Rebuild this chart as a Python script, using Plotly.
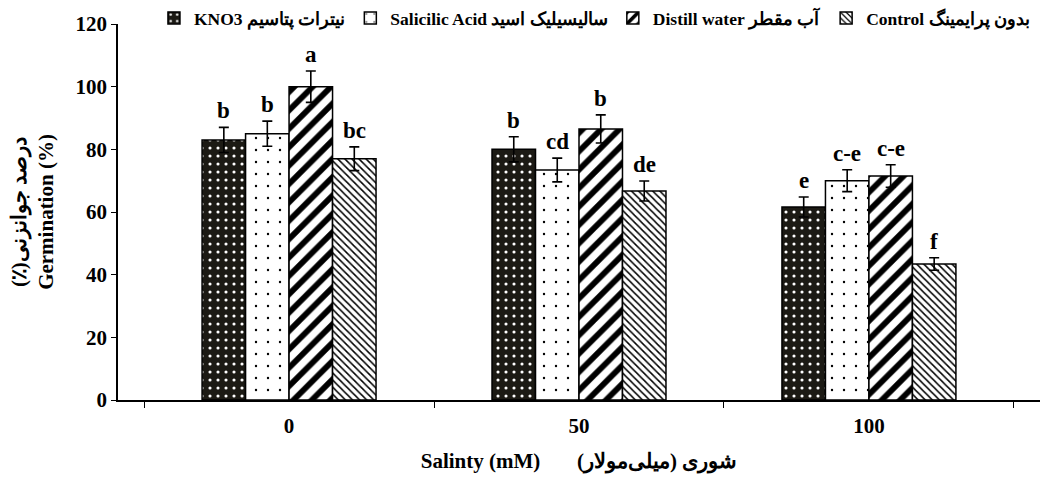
import plotly.graph_objects as go

categories = ["0", "50", "100"]
series_names = ["KNO3 نیترات پتاسیم", "Salicilic Acid سالیسیلیک اسید",
                "Distill water آب مقطر", "Control بدون پرایمینگ"]
kno3 = [83, 80, 61.6]
salicylic = [85, 73.4, 70]
distill = [100, 86.5, 71.5]
control = [77, 66.7, 43.4]
kno3_err = [4, 4, 3.2]
salicylic_err = [4, 3.8, 3.5]
distill_err = [5, 4.5, 3.6]
control_err = [3.8, 3.2, 2]
kno3_letters = ["b", "b", "e"]
salicylic_letters = ["b", "cd", "c-e"]
distill_letters = ["a", "b", "c-e"]
control_letters = ["bc", "de", "f"]

values = [kno3, salicylic, distill, control]
errors = [kno3_err, salicylic_err, distill_err, control_err]
letters = [kno3_letters, salicylic_letters, distill_letters, control_letters]

patterns = [
    dict(shape=".", bgcolor="#1c1a14", fgcolor="white", size=8, solidity=0.12, fgopacity=1),
    dict(shape=".", bgcolor="white", fgcolor="black", size=12, solidity=0.03, fgopacity=1),
    dict(shape="/", bgcolor="white", fgcolor="black", size=13, solidity=0.45, fgopacity=1),
    dict(shape="\\", bgcolor="white", fgcolor="black", size=5, solidity=0.3, fgopacity=1),
]

FONT = "Liberation Serif, DejaVu Serif, serif"
fig = go.Figure()
for i in range(4):
    fig.add_trace(go.Bar(
        x=categories, y=values[i], name=series_names[i],
        marker=dict(color="white", pattern=patterns[i],
                    line=dict(color="black", width=1.5)),
        error_y=dict(type="data", array=errors[i], color="black",
                     thickness=1.6, width=5),
    ))

# letters above error bars
offsets = [-1.5, -0.5, 0.5, 1.5]
for i in range(4):
    for j, c in enumerate(categories):
        fig.add_annotation(
            x=j + offsets[i] * 0.15, y=values[i][j] + errors[i][j],
            xref="x", yref="y", text="<b>%s</b>" % letters[i][j],
            showarrow=False, yanchor="bottom", yshift=2,
            font=dict(family=FONT, size=23, color="black"))

fig.update_layout(
    width=1048, height=477,
    margin=dict(l=118, r=8, t=24, b=77, autoexpand=False),
    paper_bgcolor="white", plot_bgcolor="white",
    barmode="group", bargap=0.4, bargroupgap=0,
    font=dict(family=FONT, color="black"),
    showlegend=True,
    legend=dict(orientation="h", x=0.039, y=1.0, xanchor="left", yanchor="top",
                yref="container",
                font=dict(family=FONT, size=17.5, color="black", weight="bold"),
                tracegroupgap=0),
    xaxis=dict(type="category", range=[-0.59, 2.59], showline=True, linecolor="black",
               linewidth=1.5, ticks="outside", tickson="boundaries", ticklen=6,
               tickcolor="black", ticklabelstandoff=6,
               tickfont=dict(family=FONT, size=21, color="black", weight="bold"),
               title=dict(text="Salinty (mM)       شوری (میلی‌مولار)",
                          font=dict(family=FONT, size=21, color="black", weight="bold"),
                          standoff=16)),
    yaxis=dict(range=[0, 120], dtick=20, showline=True, linecolor="black",
               linewidth=1.5, ticks="outside", ticklen=5, tickcolor="black",
               showgrid=False, zeroline=False,
               tickfont=dict(family=FONT, size=21, color="black", weight="bold"),
               title=dict(text="درصد جوانزنی(٪)\u200f<br>Germination (%)",
                          font=dict(family=FONT, size=21, color="black", weight="bold"),
                          standoff=16)),
)

fig.write_html("out.html", config={"displayModeBar": False},
               post_script="document.body.style.margin='0';")
